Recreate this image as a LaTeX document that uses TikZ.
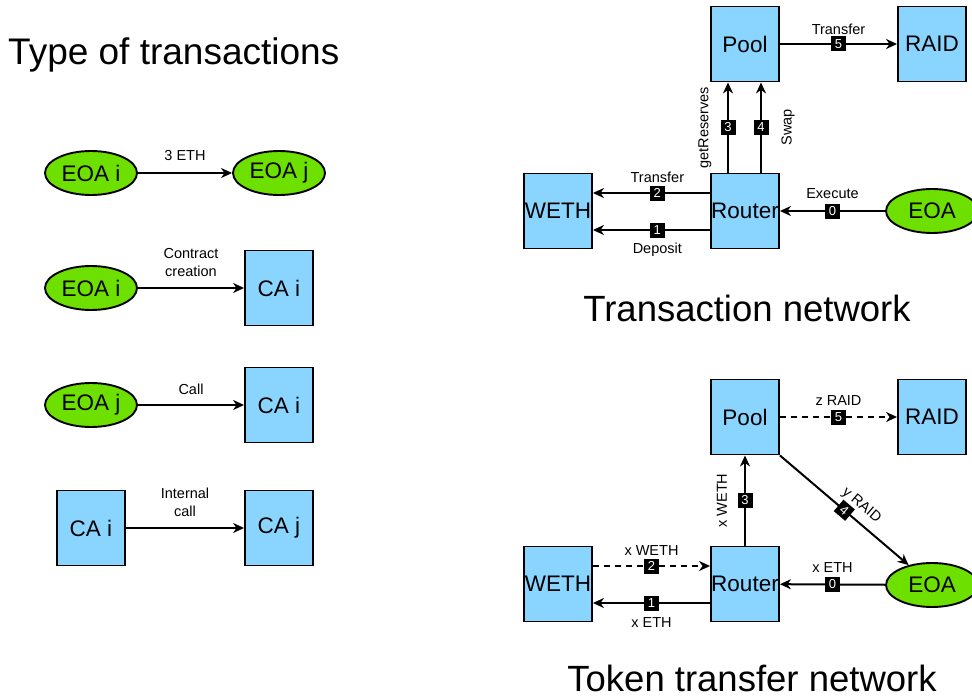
\documentclass[tikz,border=0pt]{standalone}
\usepackage{fontspec}
\setmainfont{Liberation Sans}
\usetikzlibrary{shapes.geometric,arrows.meta}
\definecolor{eoagreen}{HTML}{6EE000}
\definecolor{cablue}{HTML}{8AD5FF}
\begin{document}
\begin{tikzpicture}[x=1pt,y=-1pt,
  box/.style={draw=black, line width=1.9pt, fill=cablue, minimum width=68pt, minimum height=75pt, inner sep=0pt, font=\fontsize{22.5}{24}\selectfont},
  eoa/.style={ellipse, draw=black, line width=1.9pt, fill=eoagreen, minimum width=92pt, minimum height=44pt, inner sep=0pt, font=\fontsize{22.5}{24}\selectfont},
  conn/.style={line width=2pt, -{Stealth[length=11pt,width=10pt,inset=3.5pt]}},
  dashconn/.style={conn, dash pattern=on 6pt off 5pt},
  lbl/.style={font=\fontsize{14.5}{18}\selectfont, inner sep=0pt, align=center},
  badge/.style={fill=black, text=white, font=\fontsize{13}{13}\selectfont, inner sep=0pt, minimum width=15pt, minimum height=15pt},
  titletext/.style={inner sep=0pt, anchor=base}
]
\useasboundingbox (0,0) rectangle (972,698);

% ---------- titles ----------
\node[titletext, anchor=base west, font=\fontsize{37}{40}\selectfont] (t1) at (8,65) {Type of transactions};
\node[titletext, font=\fontsize{36.5}{40}\selectfont] (t2) at (747,321) {Transaction network};
\node[titletext, font=\fontsize{36.5}{40}\selectfont] (t3) at (752,691) {Token transfer network};

% ---------- left: types ----------
\node[eoa] (ea1) at (91,173) {EOA i};
\node[eoa] (eb1) at (279,173) {EOA j};
\draw[conn] (ea1) -- (eb1) node[lbl, midway, yshift=17pt] {3 ETH};

\node[eoa] (ea2) at (91,288) {EOA i};
\node[box] (ca2) at (279,288) {CA i};
\draw[conn] (ea2) -- (ca2) node[lbl, midway, yshift=25pt] {Contract\\creation};

\node[eoa] (ea3) at (91,405) {EOA j};
\node[box] (ca3) at (279,405) {CA i};
\draw[conn] (ea3) -- (ca3) node[lbl, midway, yshift=16pt] {Call};

\node[box] (ca4) at (91,528) {CA i};
\node[box] (cb4) at (279,528) {CA j};
\draw[conn] (ca4) -- (cb4) node[lbl, midway, yshift=26pt] {Internal\\call};

% ---------- transaction network ----------
\node[box] (pool1) at (745,44) {Pool};
\node[box] (raid1) at (932,44) {RAID};
\node[box] (rtr1) at (745,211) {Router};
\node[box] (weth1) at (558,211) {WETH};
\node[eoa] (eoa1) at (932,211) {EOA};

\draw[conn] (pool1) -- (raid1)
  node[badge, midway] {5} node[lbl, midway, yshift=15pt] {Transfer};
\draw[conn] (eoa1) -- (rtr1)
  node[badge, midway] {0} node[lbl, midway, yshift=17pt] {Execute};
\draw[conn] ([yshift=18pt]rtr1.west) -- ([yshift=18pt]weth1.east)
  node[badge, pos=0.45] {2} node[lbl, pos=0.45, yshift=16pt] {Transfer};
\draw[conn] ([yshift=-19pt]rtr1.west) -- ([yshift=-19pt]weth1.east)
  node[badge, pos=0.45] {1} node[lbl, pos=0.45, yshift=-20pt] {Deposit};
\draw[conn] ([xshift=-17pt]rtr1.north) -- ([xshift=-17pt]pool1.south)
  node[badge, midway] {3} node[lbl, midway, xshift=-23pt, rotate=90] {getReserves};
\draw[conn] ([xshift=16pt]rtr1.north) -- ([xshift=16pt]pool1.south)
  node[badge, midway] {4} node[lbl, midway, xshift=27pt, rotate=90] {Swap};

% ---------- token transfer network ----------
\node[box] (pool2) at (745,417) {Pool};
\node[box] (raid2) at (932,417) {RAID};
\node[box] (rtr2) at (745,584) {Router};
\node[box] (weth2) at (558,584) {WETH};
\node[eoa] (eoa2) at (932,585) {EOA};

\draw[dashconn] (pool2) -- (raid2)
  node[badge, midway] {5} node[lbl, midway, yshift=16pt] {z RAID};
\draw[conn] (eoa2) -- (rtr2)
  node[badge, midway] {0} node[lbl, midway, yshift=17pt] {x ETH};
\draw[dashconn] ([yshift=18pt]weth2.east) -- ([yshift=18pt]rtr2.west)
  node[badge, midway] {2} node[lbl, midway, yshift=15pt] {x WETH};
\draw[conn] ([yshift=-19pt]rtr2.west) -- ([yshift=-19pt]weth2.east)
  node[badge, midway] {1} node[lbl, midway, yshift=-20pt] {x ETH};
\draw[conn] (rtr2) -- (pool2)
  node[badge, midway] {3} node[lbl, midway, xshift=-23pt, rotate=90] {x WETH};
\draw[conn] (pool2.south east) -- (eoa2)
  node[badge, midway, sloped] {4} node[lbl, pos=0.56, sloped, above=7pt] {y RAID};
\end{tikzpicture}
\end{document}
